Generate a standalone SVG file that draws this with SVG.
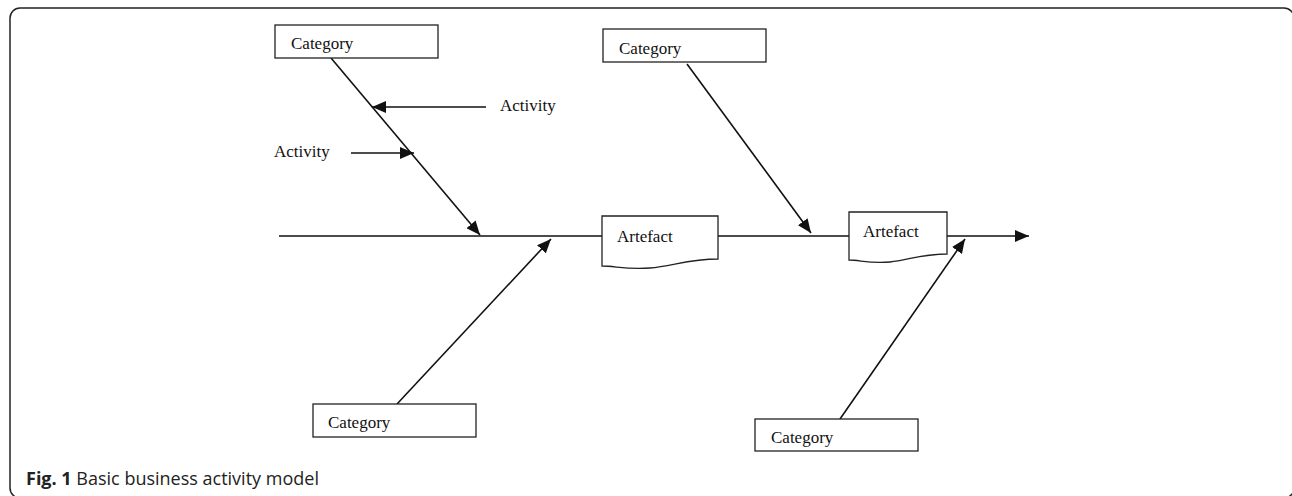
<svg xmlns="http://www.w3.org/2000/svg" width="1292" height="496" viewBox="0 0 1292 496">
<style>
.box{fill:#fff;stroke:#222;stroke-width:1.3}
.lbl{font-family:"Liberation Serif",serif;font-size:17px;fill:#111}
.ln{stroke:#111;stroke-width:1.6;fill:none}
</style>
<defs>
<marker id="ah" markerUnits="userSpaceOnUse" markerWidth="16" markerHeight="12" refX="14" refY="6" orient="auto">
<path d="M0,0 L14,6 L0,12 Z" fill="#111"/>
</marker>
</defs>
<rect x="10" y="8" width="1284" height="490" rx="10" fill="none" stroke="#222" stroke-width="1.5"/>
<g id="connectors">
<line class="ln" x1="279" y1="236" x2="1029" y2="236" marker-end="url(#ah)"/>
<line class="ln" x1="331" y1="58" x2="480" y2="235" marker-end="url(#ah)"/>
<line class="ln" x1="486" y1="107" x2="372" y2="107" marker-end="url(#ah)"/>
<line class="ln" x1="351" y1="153" x2="414" y2="153" marker-end="url(#ah)"/>
<line class="ln" x1="687" y1="64" x2="811" y2="233" marker-end="url(#ah)"/>
<line class="ln" x1="397" y1="404" x2="551" y2="239" marker-end="url(#ah)"/>
<line class="ln" x1="840" y1="419" x2="965" y2="239" marker-end="url(#ah)"/>
</g>
<g id="cat1"><rect class="box" x="275" y="25" width="163" height="33"/><text class="lbl" x="291" y="49">Category</text></g>
<g id="cat2"><rect class="box" x="603" y="29" width="163" height="33"/><text class="lbl" x="619" y="54">Category</text></g>
<g id="cat3"><rect class="box" x="313" y="404" width="163" height="33"/><text class="lbl" x="328" y="428">Category</text></g>
<g id="cat4"><rect class="box" x="755" y="419" width="163" height="32"/><text class="lbl" x="771" y="443">Category</text></g>
<g id="act1"><text class="lbl" x="500" y="111">Activity</text></g>
<g id="act2"><text class="lbl" x="274" y="157">Activity</text></g>
<g id="art1"><path class="box" d="M602,216 H718 V259 C690,259 672,266 650,268 C628,270 615,266 602,266 Z"/><text class="lbl" x="617" y="242">Artefact</text></g>
<g id="art2"><path class="box" d="M849,212 H947 V254 C922,254 908,260 890,262 C870,264 860,260 849,260 Z"/><text class="lbl" x="863" y="237">Artefact</text></g>
<text x="26" y="485" font-family="'Open Sans',sans-serif" font-size="18" fill="#222"><tspan font-weight="bold">Fig. 1</tspan> Basic business activity model</text>
</svg>
